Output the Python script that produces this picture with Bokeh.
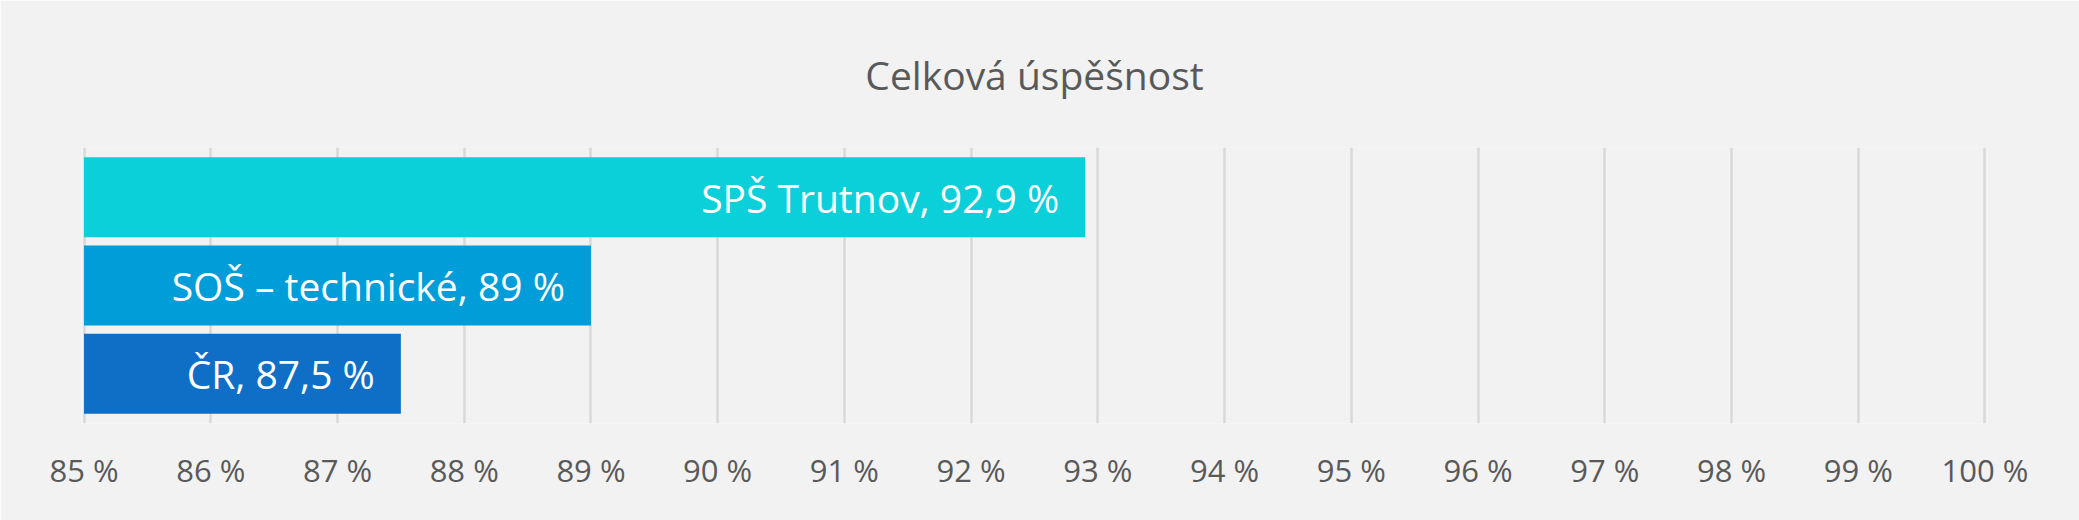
from bokeh.plotting import figure
from bokeh.models import FactorRange, Range1d, FixedTicker, PrintfTickFormatter, ColumnDataSource
from bokeh.core.properties import value
from bokeh.embed import file_html
from bokeh.resources import INLINE

# data (bottom to top)
categories = ["ČR", "SOŠ – technické", "SPŠ Trutnov"]
values = [87.5, 89.0, 92.9]
colors = ["#0F6FC6", "#009DD9", "#0BD0D9"]
ticks = list(range(85, 101))
title_text = "Celková úspěšnost"

def fmt(v):
    s = ("%g" % v).replace(".", ",")
    return s + " %"

labels = [f"{c}, {fmt(v)}" for c, v in zip(categories, values)]
src = ColumnDataSource(dict(cat=categories, val=values, col=colors, lab=labels,
                            base=[85] * len(values)))

W, H = 2079, 520
p = figure(width=W, height=H, output_backend="svg", toolbar_location=None,
           y_range=FactorRange(factors=categories, range_padding=0.064, range_padding_units="absolute"),
           x_range=Range1d(84.98, 100.02),
           min_border_left=81, min_border_right=92, min_border_top=147, min_border_bottom=97)
p.background_fill_color = "#f2f2f2"
p.border_fill_color = "#f2f2f2"
p.outline_line_color = None

p.title.text = title_text
p.title.align = "center"
p.title.vertical_align = "top"
p.title.text_font = "Open Sans"
p.title.text_font_size = "39px"
p.title.text_font_style = "normal"
p.title.text_color = "#595959"
p.title.standoff = 90

p.hbar(y="cat", left="base", right="val", height=0.906, color="col", line_color=None, source=src)
p.text(x="val", y="cat", text="lab", source=src, text_align="right", text_baseline="middle",
       x_offset=-26, text_color="white", text_font=value("Open Sans"), text_font_size="39px")

p.yaxis.visible = False
p.ygrid.visible = False
p.xgrid.grid_line_color = "#d9d9d9"
p.xgrid.grid_line_width = 2.5
p.xaxis.ticker = FixedTicker(ticks=ticks)
p.xaxis.formatter = PrintfTickFormatter(format="%d %%")
p.xaxis.axis_line_color = None
p.xaxis.major_tick_line_color = None
p.xaxis.minor_tick_line_color = None
p.xaxis.major_label_text_font = "Open Sans"
p.xaxis.major_label_text_font_size = "31px"
p.xaxis.major_label_text_color = "#595959"
p.xaxis.major_label_standoff = 19

open("out.html", "w").write(file_html(p, INLINE))
